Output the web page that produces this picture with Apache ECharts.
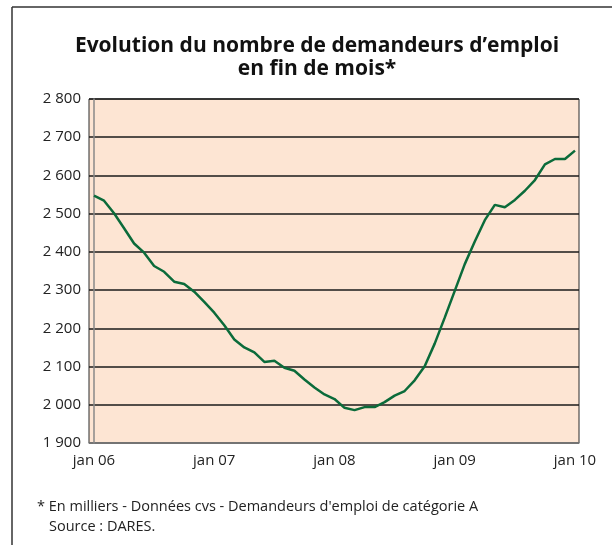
<!DOCTYPE html>
<html>
<head>
<meta charset="utf-8">
<script src="https://cdn.jsdelivr.net/npm/echarts@6/dist/echarts.min.js"></script>
<style>
  html, body { margin: 0; padding: 0; background: #fff; }
  #chart { width: 612px; height: 545px; }
</style>
</head>
<body>
<div id="chart"></div>
<script>
// demandeurs d'emploi fin de mois, en milliers, jan 06 -> jan 10
const demandeurs = [
  2547, 2534, 2501, 2462, 2422, 2398, 2363, 2348, 2322, 2316, 2296, 2269,
  2241, 2208, 2171, 2150, 2137, 2112, 2115, 2097, 2089, 2066, 2045, 2027,
  2015, 1992, 1986, 1994, 1994, 2007, 2024, 2036, 2064, 2101, 2160, 2228,
  2298, 2368, 2427, 2483, 2523, 2517, 2536, 2560, 2588, 2629, 2643, 2643,
  2665
]
const tickMonths = [0, 12, 24, 36, 48]
const tickLabels = ['jan 06', 'jan 07', 'jan 08', 'jan 09', 'jan 10']

const font = 'Open Sans'

let chart = echarts.init(document.getElementById('chart'))
let option = {
  animation: false,
  title: {
    text: 'Evolution du nombre de demandeurs d\u2019emploi\nen fin de mois*',
    left: 312,
    textAlign: 'center',
    top: 30,
    textStyle: {
      fontFamily: font,
      fontWeight: 'bold',
      fontSize: 21,
      lineHeight: 23,
      color: '#111'
    }
  },
  grid: {
    left: 89,
    top: 99,
    right: 33,
    bottom: 102,
    show: true,
    backgroundColor: '#fde5d3',
    borderColor: '#2a2a2a',
    borderWidth: 1
  },
  xAxis: {
    type: 'value',
    min: -0.5,
    max: 48.4,
    axisLine: { show: true, lineStyle: { color: '#888', width: 1.5 } },
    axisTick: { show: false },
    splitLine: { show: false },
    axisLabel: {
      customValues: tickMonths,
      formatter: v => tickLabels[tickMonths.indexOf(v)],
      fontFamily: font,
      fontSize: 15,
      color: '#222',
      margin: 10
    }
  },
  yAxis: {
    type: 'value',
    min: 1900,
    max: 2800,
    interval: 100,
    axisLine: { show: true, lineStyle: { color: '#888', width: 1.5 } },
    axisTick: { show: false },
    splitLine: { lineStyle: { color: '#1a1a1a', width: 1.5 } },
    axisLabel: {
      formatter: v => String(v).replace(/(\d)(\d{3})$/, '$1 $2'),
      fontFamily: font,
      fontSize: 15,
      color: '#222',
      margin: 8
    }
  },
  series: [
    {
      type: 'line',
      data: demandeurs.map((v, i) => [i, v]),
      showSymbol: false,
      lineStyle: { color: '#0b6b3a', width: 2.5 }
    }
  ],
  graphic: [
    // cadre
    { type: 'line', shape: { x1: 12, y1: 7, x2: 612, y2: 7 }, style: { stroke: '#333', lineWidth: 1.5 } },
    { type: 'line', shape: { x1: 12, y1: 7, x2: 12, y2: 545 }, style: { stroke: '#333', lineWidth: 1.5 } },
    {
      type: 'text', left: 37, top: 499,
      style: {
        text: '* En milliers - Donn\u00e9es cvs - Demandeurs d\'emploi de cat\u00e9gorie A',
        font: '14.5px "Open Sans"', fill: '#222'
      }
    },
    {
      type: 'text', left: 49, top: 519,
      style: { text: 'Source : DARES.', font: '14.5px "Open Sans"', fill: '#222' }
    }
  ]
}
chart.setOption(option)
</script>
</body>
</html>
